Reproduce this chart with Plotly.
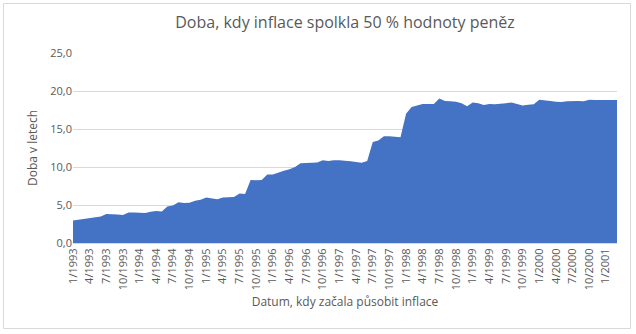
import plotly.graph_objects as go

years = list(range(1993, 2002))
dates = [f"{m}/{y}" for y in years for m in range(1, 13)][:99]

values = [
    2.95, 3.05, 3.15, 3.3, 3.4, 3.5, 3.8, 3.8, 3.75, 3.7,
    4.0, 4.0, 3.95, 3.95, 4.1, 4.2, 4.15, 4.8, 4.95, 5.35,
    5.25, 5.3, 5.55, 5.7, 6.0, 5.85, 5.75, 6.0, 6.0, 6.05,
    6.5, 6.45, 8.3, 8.25, 8.3, 9.0, 9.0, 9.3, 9.5, 9.7,
    10.0, 10.5, 10.5, 10.55, 10.6, 10.9, 10.8, 10.9, 10.9, 10.85,
    10.75, 10.65, 10.55, 10.8, 13.3, 13.5, 14.05, 14.05, 14.0, 13.9,
    17.0, 17.9, 18.1, 18.3, 18.3, 18.3, 19.0, 18.7, 18.65, 18.6,
    18.4, 18.0, 18.5, 18.4, 18.15, 18.3, 18.25, 18.3, 18.4, 18.5,
    18.25, 18.1, 18.2, 18.25, 18.85, 18.8, 18.7, 18.6, 18.55, 18.65,
    18.7, 18.7, 18.65, 18.85, 18.8, 18.8, 18.85, 18.8, 18.8,
]

tick_labels = dates[::3]
y_ticks = [0, 5, 10, 15, 20, 25]

title_text = "Doba, kdy inflace spolkla 50 % hodnoty peněz"
x_title = "Datum, kdy začala působit inflace"
y_title = "Doba v letech"

font_family = "Open Sans"
grey = "#595959"

fig = go.Figure()
fig.add_trace(go.Scatter(
    x=dates, y=values, mode="lines", fill="tozeroy",
    line=dict(width=0, color="#4472C4"), fillcolor="#4472C4",
    hoverinfo="x+y",
))

L, R, T, B = 73, 19, 53, 91
W, H = 636, 334
pw, ph = W - L - R, H - T - B

def px_to_paper_x(px):
    return (px - L) / pw

def px_to_paper_y(py):
    return (H - B - py) / ph

fig.update_layout(
    width=W, height=H,
    margin=dict(l=L, r=R, t=T, b=B),
    paper_bgcolor="white", plot_bgcolor="white",
    separators=", ",
    showlegend=False,
    font=dict(family=font_family, color=grey, size=12),
    title=dict(text=title_text, x=0.5, xref="paper", xanchor="center",
               y=1 - 22 / H, yanchor="middle",
               font=dict(family=font_family, size=16, color=grey)),
    xaxis=dict(
        type="category", range=[0, len(dates) - 1],
        tickmode="array", tickvals=tick_labels, ticktext=tick_labels,
        tickangle=-90, showgrid=False, ticks="",
        showline=True, linecolor="#d9d9d9", linewidth=1,
        tickfont=dict(size=11, color=grey),
        title=dict(text=x_title, font=dict(size=12, color=grey), standoff=8),
    ),
    yaxis=dict(
        range=[0, 25], tickvals=y_ticks, tickformat=".1f",
        showgrid=True, gridcolor="#d9d9d9", gridwidth=1,
        zeroline=False, ticks="", showline=False,
        tickfont=dict(size=11, color=grey),
        title=dict(text=y_title, font=dict(size=12, color=grey), standoff=10),
    ),
    shapes=[dict(
        type="rect", xref="paper", yref="paper",
        x0=px_to_paper_x(3.5), x1=px_to_paper_x(630.5),
        y0=px_to_paper_y(328.5), y1=px_to_paper_y(3.5),
        line=dict(color="#d9d9d9", width=1), fillcolor="rgba(0,0,0,0)",
        layer="below",
    )],
)

fig.write_html("out.html")
